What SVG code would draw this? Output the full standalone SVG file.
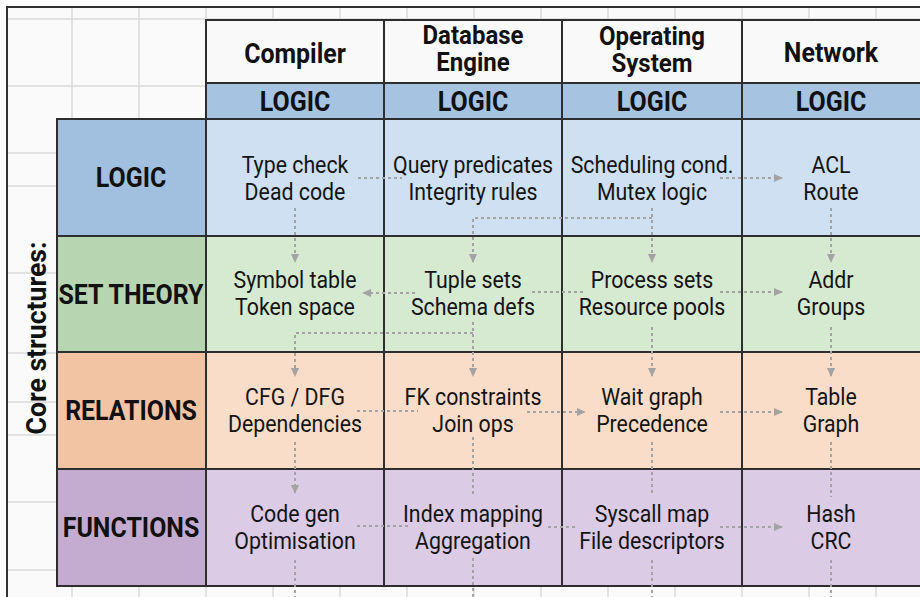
<svg xmlns="http://www.w3.org/2000/svg" width="920" height="597" viewBox="0 0 920 597">
<defs>
<style>
.grid line{stroke:#dadada;stroke-width:1.5}
.cell{stroke:#2e2e2e;stroke-width:2}
.t{font-family:Roboto,"Liberation Sans",sans-serif;font-size:24.5px;fill:#141414;text-anchor:middle}
.b{font-family:Roboto,"Liberation Sans",sans-serif;font-weight:bold;font-size:28px;fill:#111;text-anchor:middle}
.h2{font-size:25px}
.conn path{fill:none;stroke:#a3a3a3;stroke-width:2;stroke-dasharray:3 3}
.hd{fill:#f9f9f9}
.sub{fill:#a6c3e2}
.lg{fill:#a1c0df}.lgb{fill:#cee0f1}
.st{fill:#b8d5b2}.stb{fill:#d6e9d1}
.rl{fill:#f2c4a4}.rlb{fill:#f9ddc9}
.fn{fill:#c4abd0}.fnb{fill:#dccbe5}
</style>
<marker id="ah" viewBox="0 0 10 10" refX="9" refY="5" markerWidth="9" markerHeight="9" markerUnits="userSpaceOnUse" orient="auto">
<path d="M0,0.5 L10,5 L0,9.5 z" fill="#a3a3a3"/>
</marker>
</defs>
<rect x="0" y="0" width="920" height="597" fill="#ffffff"/>
<rect x="7" y="7" width="930" height="600" fill="#fafafa" stroke="#333" stroke-width="2"/>
<g class="grid">
<line x1="72" y1="8" x2="72" y2="597"/>
<line x1="139" y1="8" x2="139" y2="597"/>
<line x1="206" y1="8" x2="206" y2="597"/>
<line x1="273" y1="8" x2="273" y2="597"/>
<line x1="340" y1="8" x2="340" y2="597"/>
<line x1="407" y1="8" x2="407" y2="597"/>
<line x1="474" y1="8" x2="474" y2="597"/>
<line x1="541" y1="8" x2="541" y2="597"/>
<line x1="608" y1="8" x2="608" y2="597"/>
<line x1="675" y1="8" x2="675" y2="597"/>
<line x1="742" y1="8" x2="742" y2="597"/>
<line x1="809" y1="8" x2="809" y2="597"/>
<line x1="876" y1="8" x2="876" y2="597"/>
<line x1="8" y1="19" x2="920" y2="19"/>
<line x1="8" y1="86" x2="920" y2="86"/>
<line x1="8" y1="153" x2="920" y2="153"/>
<line x1="8" y1="186" x2="920" y2="186"/>
<line x1="8" y1="273" x2="920" y2="273"/>
<line x1="8" y1="353" x2="920" y2="353"/>
<line x1="8" y1="402" x2="920" y2="402"/>
<line x1="8" y1="435" x2="920" y2="435"/>
<line x1="8" y1="502" x2="920" y2="502"/>
<line x1="8" y1="570" x2="920" y2="570"/>
</g>
<g id="header-compiler">
<rect class="cell hd" x="206" y="20" width="178" height="63"/>
<text class="b" transform="translate(295,63) scale(.89 1)">Compiler</text>
</g>
<g id="header-database">
<rect class="cell hd" x="384" y="20" width="178" height="63"/>
<text class="b h2" transform="translate(473,44) scale(.96 1)"><tspan x="0">Database</tspan><tspan x="0" dy="27">Engine</tspan></text>
</g>
<g id="header-os">
<rect class="cell hd" x="562" y="20" width="180" height="63"/>
<text class="b h2" transform="translate(652,45) scale(.96 1)"><tspan x="0">Operating</tspan><tspan x="0" dy="27">System</tspan></text>
</g>
<g id="header-network">
<rect class="cell hd" x="742" y="20" width="190" height="63"/>
<text class="b" transform="translate(831,62) scale(.89 1)">Network</text>
</g>
<g id="sub-compiler"><rect class="cell sub" x="206" y="83" width="178" height="36"/><text class="b" font-size="27" transform="translate(295,111) scale(.89 1)">LOGIC</text></g>
<g id="sub-database"><rect class="cell sub" x="384" y="83" width="178" height="36"/><text class="b" font-size="27" transform="translate(473,111) scale(.89 1)">LOGIC</text></g>
<g id="sub-os"><rect class="cell sub" x="562" y="83" width="180" height="36"/><text class="b" font-size="27" transform="translate(652,111) scale(.89 1)">LOGIC</text></g>
<g id="sub-network"><rect class="cell sub" x="742" y="83" width="190" height="36"/><text class="b" font-size="27" transform="translate(831,111) scale(.89 1)">LOGIC</text></g>

<g id="row-logic">
<rect class="cell lg" x="57" y="119" width="149" height="117"/>
<text class="b" font-size="27" transform="translate(131,187) scale(.89 1)">LOGIC</text>
</g>
<g id="row-set">
<rect class="cell st" x="57" y="236" width="149" height="116"/>
<text class="b" transform="translate(131,304) scale(.89 1)">SET THEORY</text>
</g>
<g id="row-rel">
<rect class="cell rl" x="57" y="352" width="149" height="117"/>
<text class="b" transform="translate(131,420) scale(.89 1)">RELATIONS</text>
</g>
<g id="row-fn">
<rect class="cell fn" x="57" y="469" width="149" height="117"/>
<text class="b" transform="translate(131,537) scale(.89 1)">FUNCTIONS</text>
</g>
<g id="axis-label">
<text class="b" transform="translate(46,338) rotate(-90) scale(.95 1)">Core structures:</text>
</g>

<g id="cells-logic">
<rect class="cell lgb" x="206" y="119" width="178" height="117"/>
<rect class="cell lgb" x="384" y="119" width="178" height="117"/>
<rect class="cell lgb" x="562" y="119" width="180" height="117"/>
<rect class="cell lgb" x="742" y="119" width="190" height="117"/>
</g>
<g id="cells-set">
<rect class="cell stb" x="206" y="236" width="178" height="116"/>
<rect class="cell stb" x="384" y="236" width="178" height="116"/>
<rect class="cell stb" x="562" y="236" width="180" height="116"/>
<rect class="cell stb" x="742" y="236" width="190" height="116"/>
</g>
<g id="cells-rel">
<rect class="cell rlb" x="206" y="352" width="178" height="117"/>
<rect class="cell rlb" x="384" y="352" width="178" height="117"/>
<rect class="cell rlb" x="562" y="352" width="180" height="117"/>
<rect class="cell rlb" x="742" y="352" width="190" height="117"/>
</g>
<g id="cells-fn">
<rect class="cell fnb" x="206" y="469" width="178" height="117"/>
<rect class="cell fnb" x="384" y="469" width="178" height="117"/>
<rect class="cell fnb" x="562" y="469" width="180" height="117"/>
<rect class="cell fnb" x="742" y="469" width="190" height="117"/>
</g>

<g class="conn" id="connectors">
<path d="M358,178 H402"/>
<path d="M295,208 V262" marker-end="url(#ah)"/>
<path d="M652,208 V262" marker-end="url(#ah)"/>
<path d="M652,218 H473 V262" marker-end="url(#ah)"/>
<path d="M720,178 H782" marker-end="url(#ah)"/>
<path d="M831,208 V262" marker-end="url(#ah)"/>
<path d="M415,293 H363" marker-end="url(#ah)"/>
<path d="M532,292 H585"/>
<path d="M720,292 H782" marker-end="url(#ah)"/>
<path d="M473,322 V376" marker-end="url(#ah)"/>
<path d="M473,333 H295 V376" marker-end="url(#ah)"/>
<path d="M652,327 V376" marker-end="url(#ah)"/>
<path d="M831,327 V376" marker-end="url(#ah)"/>
<path d="M357,411 H418"/>
<path d="M527,412 H585" marker-end="url(#ah)"/>
<path d="M720,412 H782" marker-end="url(#ah)"/>
<path d="M295,442 V493" marker-end="url(#ah)"/>
<path d="M473,437 V495 M473,558 V597"/>
<path d="M652,442 V495 M652,560 V597"/>
<path d="M831,442 V497 M831,560 V597"/>
<path d="M295,560 V597"/>
<path d="M357,526 H410"/>
<path d="M548,527 H575"/>
<path d="M720,527 H782" marker-end="url(#ah)"/>
</g>

<g id="n-compiler-logic"><text class="t" transform="translate(295,172.5) scale(.87 1)"><tspan x="0">Type check</tspan><tspan x="0" dy="27.6">Dead code</tspan></text></g>
<g id="n-db-logic"><text class="t" transform="translate(473,172.5) scale(.87 1)"><tspan x="0">Query predicates</tspan><tspan x="0" dy="27.6">Integrity rules</tspan></text></g>
<g id="n-os-logic"><text class="t" transform="translate(652,172.5) scale(.87 1)"><tspan x="0">Scheduling cond.</tspan><tspan x="0" dy="27.6">Mutex logic</tspan></text></g>
<g id="n-net-logic"><text class="t" transform="translate(831,172.5) scale(.87 1)"><tspan x="0">ACL</tspan><tspan x="0" dy="27.6">Route</tspan></text></g>

<g id="n-compiler-set"><text class="t" transform="translate(295,287.5) scale(.87 1)"><tspan x="0">Symbol table</tspan><tspan x="0" dy="27.6">Token space</tspan></text></g>
<g id="n-db-set"><text class="t" transform="translate(473,287.5) scale(.87 1)"><tspan x="0">Tuple sets</tspan><tspan x="0" dy="27.6">Schema defs</tspan></text></g>
<g id="n-os-set"><text class="t" transform="translate(652,287.5) scale(.87 1)"><tspan x="0">Process sets</tspan><tspan x="0" dy="27.6">Resource pools</tspan></text></g>
<g id="n-net-set"><text class="t" transform="translate(831,287.5) scale(.87 1)"><tspan x="0">Addr</tspan><tspan x="0" dy="27.6">Groups</tspan></text></g>

<g id="n-compiler-rel"><text class="t" transform="translate(295,404.5) scale(.87 1)"><tspan x="0">CFG / DFG</tspan><tspan x="0" dy="27.6">Dependencies</tspan></text></g>
<g id="n-db-rel"><text class="t" transform="translate(473,404.5) scale(.87 1)"><tspan x="0">FK constraints</tspan><tspan x="0" dy="27.6">Join ops</tspan></text></g>
<g id="n-os-rel"><text class="t" transform="translate(652,404.5) scale(.87 1)"><tspan x="0">Wait graph</tspan><tspan x="0" dy="27.6">Precedence</tspan></text></g>
<g id="n-net-rel"><text class="t" transform="translate(831,404.5) scale(.87 1)"><tspan x="0">Table</tspan><tspan x="0" dy="27.6">Graph</tspan></text></g>

<g id="n-compiler-fn"><text class="t" transform="translate(295,521.5) scale(.87 1)"><tspan x="0">Code gen</tspan><tspan x="0" dy="27.6">Optimisation</tspan></text></g>
<g id="n-db-fn"><text class="t" transform="translate(473,521.5) scale(.87 1)"><tspan x="0">Index mapping</tspan><tspan x="0" dy="27.6">Aggregation</tspan></text></g>
<g id="n-os-fn"><text class="t" transform="translate(652,521.5) scale(.87 1)"><tspan x="0">Syscall map</tspan><tspan x="0" dy="27.6">File descriptors</tspan></text></g>
<g id="n-net-fn"><text class="t" transform="translate(831,521.5) scale(.87 1)"><tspan x="0">Hash</tspan><tspan x="0" dy="27.6">CRC</tspan></text></g>
</svg>
